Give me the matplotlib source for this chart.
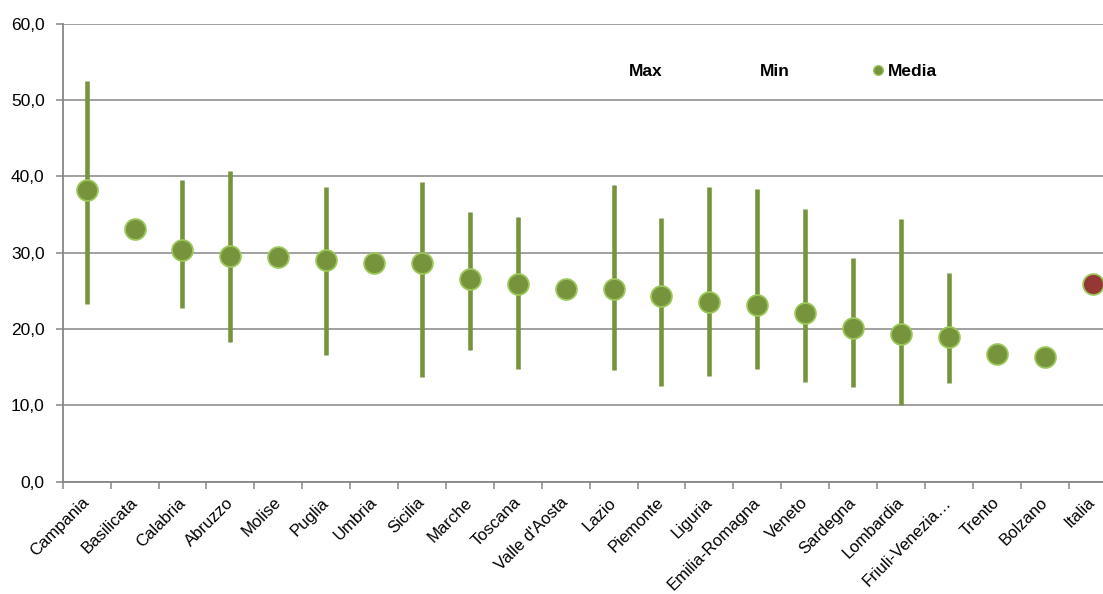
import numpy as np
import matplotlib.pyplot as plt
from matplotlib.lines import Line2D
from matplotlib.ticker import FuncFormatter
from matplotlib.transforms import ScaledTranslation

# ============================================================
# Data
# ============================================================
regioni = ["Campania", "Basilicata", "Calabria", "Abruzzo", "Molise", "Puglia",
           "Umbria", "Sicilia", "Marche", "Toscana", "Valle d'Aosta", "Lazio",
           "Piemonte", "Liguria", "Emilia-Romagna", "Veneto", "Sardegna",
           "Lombardia", "Friuli-Venezia…", "Trento", "Bolzano", "Italia"]

media = [38.2, 33.1, 30.4, 29.6, 29.5, 29.1, 28.7, 28.7, 26.5, 25.9, 25.3,
         25.3, 24.3, 23.5, 23.2, 22.1, 20.2, 19.4, 19.0, 16.7, 16.3, 25.9]
vmax = [52.5, None, 39.5, 40.7, None, 38.6, None, 39.2, 35.3, 34.7, None,
        38.9, 34.5, 38.6, 38.3, 35.7, 29.3, 34.4, 27.4, None, None, None]
vmin = [23.3, None, 22.7, 18.3, None, 16.6, None, 13.7, 17.2, 14.8, None,
        14.6, 12.5, 13.9, 14.8, 13.1, 12.4, 10.0, 12.9, None, None, None]

# ============================================================
# Style
# ============================================================
GREEN = "#77933C"
EDGE = "#9BC75A"
RED = "#953735"
GRID = "#868686"
FS = 12.5

plt.rcParams["font.family"] = ["Liberation Sans", "DejaVu Sans"]

fig = plt.figure(figsize=(11.03, 5.94), dpi=100)
# axes runs a little past the right edge, like the cropped original
ax = fig.add_axes([62.7 / 1103, 1 - 481.7 / 594, 22 * 47.9 / 1103, 458 / 594])

x = np.arange(len(regioni))

# high-low bars
for xi, hi, lo in zip(x, vmax, vmin):
    if hi is not None and lo is not None:
        ax.vlines(xi, lo, hi, color=GREEN, lw=3.3, zorder=3)

# mean points
ax.plot(x[:-1], media[:-1], ls="none", marker="o", ms=15, mfc=GREEN,
        mec=EDGE, mew=1.3, zorder=4)
ax.plot(x[-1:], media[-1:], ls="none", marker="o", ms=15, mfc=RED,
        mec=EDGE, mew=1.3, zorder=4)

# axes
ax.set_xlim(-0.5, len(regioni) - 0.5)
ax.set_ylim(0, 60)
ax.set_yticks(np.arange(0, 61, 10))
ax.yaxis.set_major_formatter(FuncFormatter(lambda v, p: f"{v:.1f}".replace(".", ",")))
ax.grid(axis="y", color=GRID, lw=1.1)
ax.set_axisbelow(True)

ax.set_xticks(np.arange(len(regioni) + 1) - 0.5)
ax.set_xticklabels([])
ax.set_xticks(x, minor=True)
ax.set_xticklabels(regioni, minor=True, rotation=45, ha="right", va="top",
                   rotation_mode="anchor", fontsize=12)
ax.tick_params(axis="x", which="major", direction="out", length=5,
               color=GRID, width=1.1)
ax.tick_params(axis="x", which="minor", length=0, pad=9.5)
ax.tick_params(axis="y", direction="out", length=5, color=GRID, width=1.1,
               labelsize=FS, pad=8)

shift = ScaledTranslation(-5 / 100, 0, fig.dpi_scale_trans)
for lab in ax.get_xticklabels(minor=True):
    lab.set_transform(lab.get_transform() + shift)

for s in ["top", "right"]:
    ax.spines[s].set_visible(False)
for s in ["left", "bottom"]:
    ax.spines[s].set_color(GRID)
    ax.spines[s].set_linewidth(1.3)

# legend
handles = [Line2D([], [], ls="none"),
           Line2D([], [], ls="none"),
           Line2D([], [], ls="none", marker="o", ms=7, mfc=GREEN, mec=EDGE)]
leg = fig.legend(handles, ["Max", "Min", "Media"], ncol=3, frameon=False,
                 loc="center left", bbox_to_anchor=(0.543, 0.880),
                 handlelength=0.5, handletextpad=0.3, columnspacing=4.83,
                 prop={"weight": "bold", "size": FS})

fig.savefig("out.png", dpi=100)
